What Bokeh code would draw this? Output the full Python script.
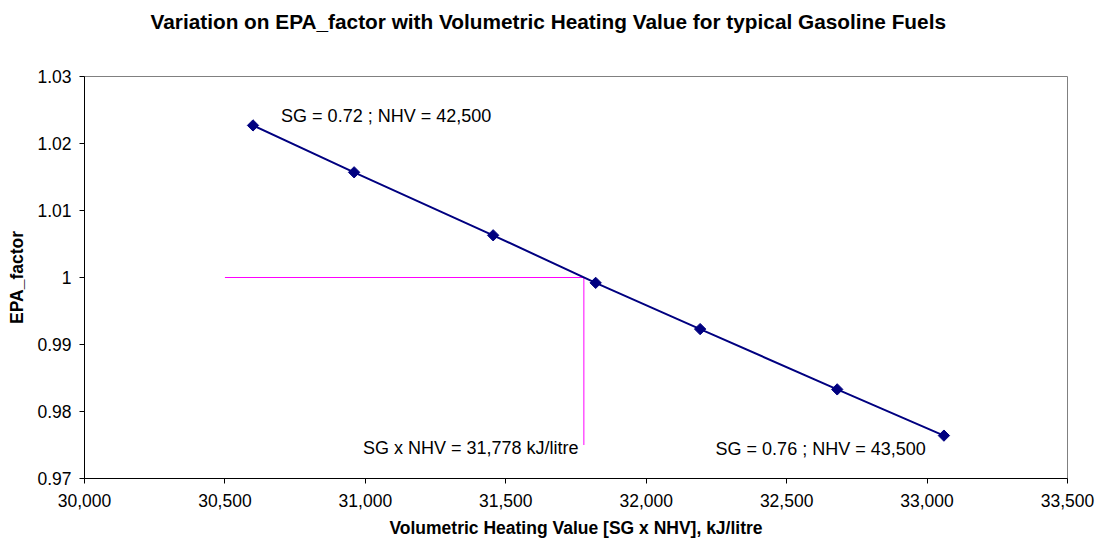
from bokeh.plotting import figure
from bokeh.models import Range1d, FixedTicker, NumeralTickFormatter, CustomJSTickFormatter, Label, Title
from bokeh.embed import file_html
from bokeh.resources import INLINE
import numpy as np

# Data
vhv = [30600, 30960, 31455, 31820, 32192, 32680, 33060]
epa = [1.0227, 1.0157, 1.0063, 0.9992, 0.9923, 0.9833, 0.9764]
ref_x = [30500, 31778, 31778]
ref_y = [1.0, 1.0, 0.975]
x_ticks = [30000, 30500, 31000, 31500, 32000, 32500, 33000, 33500]
y_ticks = [0.97, 0.98, 0.99, 1.00, 1.01, 1.02, 1.03]
title_text = "Variation on EPA_factor with Volumetric Heating Value for typical Gasoline Fuels"

FONT = "Liberation Sans"

p = figure(width=1099, height=540, output_backend="svg", toolbar_location=None,
           x_range=Range1d(30000, 33500), y_range=Range1d(0.97, 1.03),
           min_border_left=84, min_border_right=32, min_border_top=76, min_border_bottom=61,
           title=title_text)

p.title.align = "left"
p.title.offset = 66
p.title.text_font = FONT
p.title.text_font_size = "20.8px"
p.title.text_font_style = "bold"
p.title.text_color = "black"

# blank spacer between title and plot area
p.add_layout(Title(text=" ", text_font_size="24px"), "above")

p.xgrid.visible = False
p.ygrid.visible = False
p.outline_line_color = "#808080"
p.outline_line_width = 1
p.background_fill_color = "white"
p.border_fill_color = "white"

p.xaxis.ticker = FixedTicker(ticks=x_ticks)
p.yaxis.ticker = FixedTicker(ticks=y_ticks)
p.xaxis.formatter = NumeralTickFormatter(format="0,0")
p.yaxis.formatter = CustomJSTickFormatter(code="return String(Number(tick.toFixed(2)));")

for ax in (p.xaxis[0], p.yaxis[0]):
    ax.axis_line_color = "black"
    ax.axis_line_width = 1
    ax.major_tick_line_color = "black"
    ax.major_tick_out = 5
    ax.major_tick_in = 0
    ax.minor_tick_out = 0
    ax.minor_tick_in = 0
    ax.major_label_text_font = FONT
    ax.major_label_text_font_size = "17.5px"
    ax.major_label_text_color = "black"
    ax.axis_label_text_font = FONT
    ax.axis_label_text_font_size = "17.5px"
    ax.axis_label_text_font_style = "bold"
    ax.axis_label_text_color = "black"

p.xaxis.axis_label = "Volumetric Heating Value [SG x NHV], kJ/litre"
p.yaxis.axis_label = "EPA_factor"
p.xaxis.major_label_standoff = 10
p.xaxis.axis_label_standoff = 8
p.yaxis.major_label_standoff = 8
p.yaxis.axis_label_standoff = 7

# reference lines
p.line(ref_x, ref_y, line_color="#FF00FF", line_width=1)

# data series
p.line(vhv, epa, line_color="#000080", line_width=2)
p.scatter(vhv, epa, marker="square", angle=np.pi / 4, size=8,
          fill_color="#000080", line_color="#000080")

labels = [
    (30700, 1.0241, "SG = 0.72 ; NHV = 42,500", "left"),
    (31759, 0.97453, "SG x NHV = 31,778 kJ/litre", "right"),
    (32247, 0.97441, "SG = 0.76 ; NHV = 43,500", "left"),
]
for lx, ly, txt, al in labels:
    p.add_layout(Label(x=lx, y=ly, text=txt, text_align=al, text_baseline="middle",
                       text_font=FONT, text_font_size="18px", text_color="black"))

open("out.html", "w").write(file_html(p, INLINE))
